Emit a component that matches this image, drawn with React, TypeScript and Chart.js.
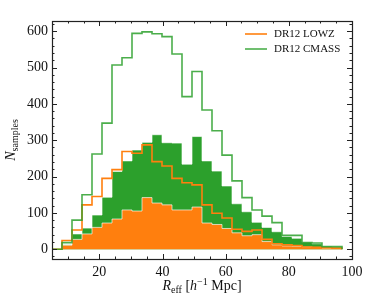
import React, { useEffect, useRef } from 'react';
import { Chart, registerables } from 'chart.js';
Chart.register(...registerables);

const binStart = 5;
const binWidth = 95 / 30;

const cmassLine = [0, 18, 80, 150, 262, 347, 507, 527, 594, 598, 593, 585, 537, 420, 489, 383, 326, 259, 188, 142, 108, 91, 73, 38, 38, 18, 17, 7, 7];
const lowzLine = [0, 24, 53, 122, 145, 195, 219, 269, 264, 287, 241, 229, 195, 183, 177, 122, 99, 86, 55, 49, 53, 27, 15, 12, 10, 6, 5, 4, 3];
const lowzFill = [0, 11, 27, 42, 60, 72, 83, 108, 105, 142, 127, 122, 108, 108, 116, 72, 68, 57, 45, 37, 40, 21, 12, 9, 8, 6, 5, 3, 3];
const cmassFill = [0, 12, 42, 58, 94, 143, 214, 243, 273, 294, 315, 293, 292, 234, 310, 243, 215, 174, 125, 103, 74, 60, 48, 35, 30, 19, 15, 8, 6];

const xTicks = [20, 40, 60, 80, 100];
const yTicks = [0, 100, 200, 300, 400, 500, 600];
const legendLabels = ['DR12 LOWZ', 'DR12 CMASS'];

const ORANGE = '#ff7f0e';
const GREEN = '#2ca02c';
const GREEN_LINE = 'rgba(44,160,44,0.85)';
const SERIF = '"Liberation Serif", "DejaVu Serif", serif';

function stepPoints(vals: number[]) {
  const pts: { x: number; y: number }[] = [{ x: binStart, y: 0 }];
  vals.forEach((v, i) => pts.push({ x: binStart + i * binWidth, y: v }));
  const end = binStart + vals.length * binWidth;
  pts.push({ x: end, y: vals[vals.length - 1] });
  pts.push({ x: end, y: 0 });
  return pts;
}

type Part = { t: string; f: string; dy: number };

function drawRich(ctx: CanvasRenderingContext2D, parts: Part[], cx: number, y: number) {
  let total = 0;
  for (const p of parts) {
    ctx.font = p.f;
    total += ctx.measureText(p.t).width;
  }
  let x = cx - total / 2;
  ctx.textBaseline = 'alphabetic';
  ctx.textAlign = 'left';
  for (const p of parts) {
    ctx.font = p.f;
    ctx.fillText(p.t, x, y + p.dy);
    x += ctx.measureText(p.t).width;
  }
}

const decorPlugin = {
  id: 'decor',
  afterDraw(chart: any) {
    const ctx: CanvasRenderingContext2D = chart.ctx;
    const { left, right, top, bottom } = chart.chartArea;
    const xs = chart.scales.x;
    const ys = chart.scales.y;
    ctx.save();
    ctx.strokeStyle = '#222';
    ctx.lineWidth = 1;
    const crisp = (v: number) => Math.round(v) + 0.5;
    for (let v = 5; v <= 100; v += 5) {
      const px = crisp(xs.getPixelForValue(v));
      if (px < left - 0.5 || px > right + 1) continue;
      const len = v % 20 === 0 ? 5 : 2.5;
      ctx.beginPath();
      ctx.moveTo(px, bottom);
      ctx.lineTo(px, bottom - len);
      ctx.moveTo(px, top);
      ctx.lineTo(px, top + len);
      ctx.stroke();
    }
    for (let v = -20; v <= 620; v += 20) {
      const py = crisp(ys.getPixelForValue(v));
      if (py < top || py > bottom) continue;
      const len = v % 100 === 0 ? 5 : 2.5;
      ctx.beginPath();
      ctx.moveTo(left, py);
      ctx.lineTo(left + len, py);
      ctx.moveTo(right, py);
      ctx.lineTo(right - len, py);
      ctx.stroke();
    }
    ctx.lineWidth = 1.2;
    ctx.strokeRect(crisp(left), crisp(top), Math.round(right - left), Math.round(bottom - top));

    const lx0 = 245, lx1 = 267, tx = 274;
    const rows = [34, 49];
    const cols = [ORANGE, GREEN_LINE];
    legendLabels.forEach((lab, i) => {
      ctx.strokeStyle = cols[i];
      ctx.lineWidth = 1.6;
      ctx.beginPath();
      ctx.moveTo(lx0, rows[i]);
      ctx.lineTo(lx1, rows[i]);
      ctx.stroke();
      ctx.fillStyle = '#111';
      ctx.font = '11px ' + SERIF;
      ctx.textAlign = 'left';
      ctx.textBaseline = 'middle';
      ctx.fillText(lab, tx, rows[i] + 0.5);
    });

    ctx.fillStyle = '#111';
    const big = '14px ' + SERIF;
    const bigI = 'italic 14px ' + SERIF;
    const small = '10px ' + SERIF;
    drawRich(ctx, [
      { t: 'R', f: bigI, dy: 0 },
      { t: 'eff', f: small, dy: 3 },
      { t: ' [', f: big, dy: 0 },
      { t: 'h', f: bigI, dy: 0 },
      { t: '\u22121', f: small, dy: -5 },
      { t: ' Mpc]', f: big, dy: 0 },
    ], (left + right) / 2, 290);

    ctx.translate(15, (top + bottom) / 2);
    ctx.rotate(-Math.PI / 2);
    drawRich(ctx, [
      { t: 'N', f: bigI, dy: 0 },
      { t: 'samples', f: small, dy: 3 },
    ], 0, 0);
    ctx.restore();
  },
};

export default function App() {
  const ref = useRef<HTMLCanvasElement | null>(null);
  useEffect(() => {
    if (!ref.current) return;
    const common = { pointRadius: 0, stepped: 'before' as const, tension: 0 };
    const chart = new Chart(ref.current, {
      type: 'line',
      data: {
        datasets: [
          { ...common, label: 'DR12 CMASS', data: stepPoints(cmassLine), borderColor: GREEN_LINE, borderWidth: 1.6, fill: false },
          { ...common, label: 'DR12 LOWZ', data: stepPoints(lowzLine), borderColor: ORANGE, borderWidth: 1.6, fill: false },
          { ...common, label: 'lowz fill', data: stepPoints(lowzFill), borderColor: 'rgba(255,255,255,0.65)', backgroundColor: ORANGE, borderWidth: 1, fill: 'origin' },
          { ...common, label: 'cmass fill', data: stepPoints(cmassFill), borderColor: 'rgba(255,255,255,0.65)', backgroundColor: GREEN, borderWidth: 1, fill: 'origin' },
        ],
      },
      options: {
        responsive: false,
        animation: false,
        events: [],
        layout: { padding: { left: 0, right: 22, top: 21, bottom: 0 } },
        plugins: { legend: { display: false }, tooltip: { enabled: false } },
        scales: {
          x: {
            type: 'linear',
            min: 5,
            max: 100,
            grid: { display: false, drawTicks: false },
            border: { display: false },
            afterBuildTicks: (s: any) => { s.ticks = xTicks.map((v) => ({ value: v })); },
            afterFit: (s: any) => { s.height = 40; },
            ticks: { padding: 5, color: '#111', font: { family: SERIF, size: 14 }, maxRotation: 0, autoSkip: false },
          },
          y: {
            type: 'linear',
            min: -27,
            max: 628,
            grid: { display: false, drawTicks: false },
            border: { display: false },
            afterBuildTicks: (s: any) => { s.ticks = yTicks.map((v) => ({ value: v })); },
            afterFit: (s: any) => { s.width = 52; },
            ticks: { padding: 4, color: '#111', font: { family: SERIF, size: 14 }, autoSkip: false },
          },
        },
      },
      plugins: [decorPlugin],
    });
    return () => chart.destroy();
  }, []);
  return (
    <div style={{ position: 'absolute', left: 0, top: 0, width: 374, height: 299, background: '#fff' }}>
      <canvas ref={ref} width={374} height={299} style={{ width: 374, height: 299 }} />
    </div>
  );
}
